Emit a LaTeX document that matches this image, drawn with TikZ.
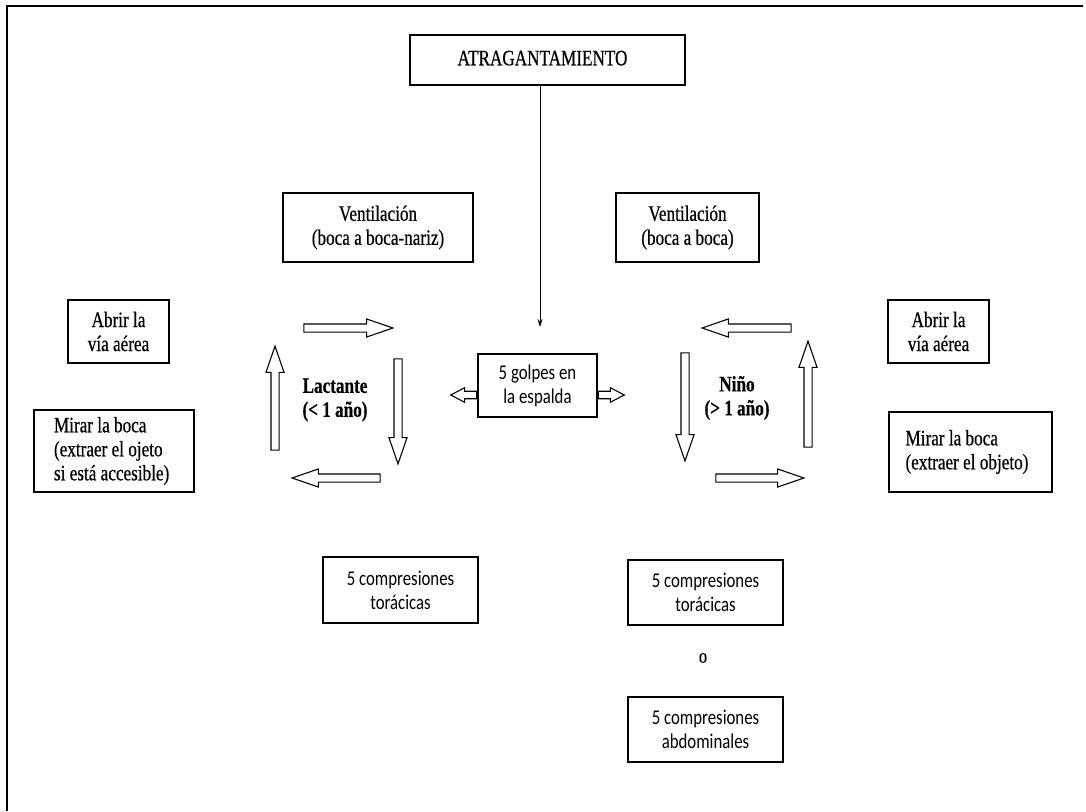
\documentclass[tikz,border=0pt]{standalone}
\usepackage{fontspec}
\setmainfont[FakeStretch=0.78,FakeBold=0.5]{Liberation Serif}
\newfontfamily\calfont[FakeStretch=0.8]{Carlito}
\usetikzlibrary{shapes.arrows,arrows.meta}
\begin{document}
\begin{tikzpicture}[x=1pt,y=-1pt,
  box/.style={draw, line width=1.5pt, inner sep=0pt, align=center,
    font=\fontsize{22}{24}\selectfont},
  sbox/.style={box, font=\calfont\fontsize{21}{24}\selectfont},
  label/.style={align=center, inner sep=0pt, font=\bfseries\fontsize{22}{24}\selectfont},
  harrow/.style={single arrow, draw, line width=1.1pt, inner sep=3.5pt,
    minimum width=17pt, single arrow head extend=5pt,
    single arrow tip angle=38, single arrow head indent=0pt},
  sarrow/.style={single arrow, draw, line width=1.1pt, inner sep=3.2pt,
    minimum width=14pt, minimum height=26pt, single arrow head extend=3.5pt,
    single arrow tip angle=55, single arrow head indent=0pt},
  conn/.style={line width=1pt, -{Stealth[length=8pt,width=5pt]}}]
\useasboundingbox (0,0) rectangle (1086,811);
\draw[line width=2pt] (7,811) -- (7,6) -- (1083,6);

% boxes
\node[box, minimum width=275pt, minimum height=50pt] (atr) at (547.5,60) {\raisebox{4pt}{ATRAGANTAMIENTO}\hspace*{10pt}};
\node[box, minimum width=190pt, minimum height=69pt] (ventL) at (378,227.5) {Ventilación\\(boca a boca-nariz)};
\node[box, minimum width=143pt, minimum height=69pt] (ventR) at (687.5,227.5) {Ventilación\\(boca a boca)};
\node[box, minimum width=101pt, minimum height=63pt] (abrirL) at (118.5,331.5) {Abrir la\\vía aérea};
\node[box, minimum width=101pt, minimum height=63pt] (abrirR) at (938.5,331.5) {Abrir la\\vía aérea};
\node[box, align=left, minimum width=160pt, minimum height=82pt] (mirarL) at (114,451) {\raisebox{-8pt}{\parbox{120pt}{Mirar la boca\\(extraer el ojeto\\si está accesible)}}};
\node[box, align=left, minimum width=163pt, minimum height=80pt] (mirarR) at (970.5,452) {\raisebox{-4pt}{\parbox{130pt}{Mirar la boca\\(extraer el objeto)}}};
\node[sbox, minimum width=119pt, minimum height=63pt] (golpes) at (537.5,385.5) {5 golpes en\\la espalda};
\node[sbox, minimum width=155pt, minimum height=66pt] (compL) at (400.5,590) {5 compresiones\\torácicas};
\node[sbox, minimum width=155pt, minimum height=65pt] (compR) at (705.5,592.5) {5 compresiones\\torácicas};
\node[font=\fontsize{21}{22}\selectfont, inner sep=0pt] (o) at (703,658) {o};
\node[sbox, minimum width=155pt, minimum height=65pt] (abdR) at (705.5,729.5) {5 compresiones\\abdominales};

% central labels
\node[label] (lact) at (335,400) {Lactante\\(< 1 año)};
\node[label] (nino) at (737,398) {Niño\\(> 1 año)};

% connector from ATRAGANTAMIENTO
\coordinate (tip) at (540,327);
\draw[conn] (atr.south -| tip) -- (tip);

% left cycle
\node[harrow, minimum height=89pt] (l1) at (342.5,328) {};
\node[harrow, minimum height=105pt, rotate=-90] (l2) at (398,405.5) {};
\node[harrow, minimum height=88pt, rotate=180] (l3) at (342,478) {};
\node[harrow, minimum height=104pt, rotate=90] (l4) at (275,404) {};

% right cycle
\node[harrow, minimum height=89pt, rotate=180] (r1) at (752.5,328) {};
\node[harrow, minimum height=108pt, rotate=-90] (r2) at (685,401) {};
\node[harrow, minimum height=88pt] (r3) at (754,478) {};
\node[harrow, minimum height=106pt, rotate=90] (r4) at (808,400) {};

% small arrows from golpes
\coordinate (gy) at (0,395);
\node[sarrow, rotate=180, anchor=tail] (gl) at (golpes.west |- gy) {};
\node[sarrow, anchor=tail] (gr) at (golpes.east |- gy) {};
\end{tikzpicture}
\end{document}
